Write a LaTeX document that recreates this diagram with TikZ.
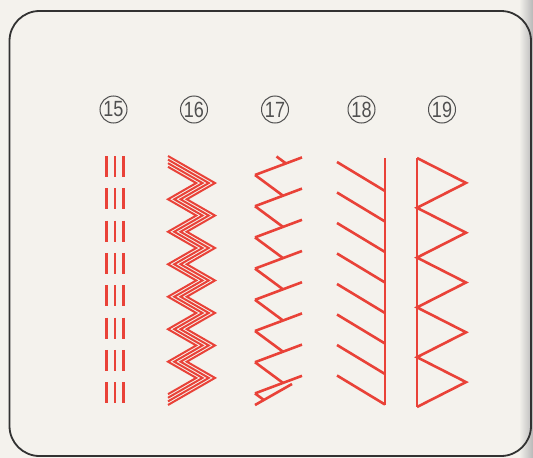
\documentclass[tikz,border=0pt]{standalone}
\usepackage{fontspec}
\setmainfont{Liberation Sans}
\newfontfamily\numfont[FakeStretch=0.82]{Liberation Sans}
\definecolor{bgc}{RGB}{244,242,237}
\definecolor{stitch}{RGB}{233,66,56}
\definecolor{framec}{RGB}{50,50,50}
\definecolor{numc}{RGB}{80,80,80}
\begin{document}
\begin{tikzpicture}[x=1pt,y=-1pt,
  stitchline/.style={draw=stitch,line width=2.6pt},
  thinstitch/.style={draw=stitch,line width=2pt,line join=miter},
  framebox/.style={draw=framec,line width=1.8pt,rounded corners=30pt},
  numlabel/.style={circle,draw=numc,line width=1pt,minimum size=27pt,inner sep=0pt,
    text=numc,font=\numfont\fontsize{22}{22}\selectfont}]
\useasboundingbox (0,0) rectangle (533,458);
\fill[bgc] (0,0) rectangle (533,458);
\shade[left color=bgc,right color=black!28] (519,0) rectangle (533,458);
\draw[framebox] (9.5,11) rectangle (531,456);

% labels
\node[numlabel] (n15) at (113.5,109.5) {15};
\node[numlabel] (n16) at (194,109.5) {16};
\node[numlabel] (n17) at (275,109.5) {17};
\node[numlabel] (n18) at (361.5,109.5) {18};
\node[numlabel] (n19) at (442,109.5) {19};

% pattern 15: triple straight stitch bars
\foreach \i in {0,...,7}
  \foreach \x in {106.5,115,123.5}
    \draw[stitchline] (\x,{156+\i*32.3}) -- (\x,{177+\i*32.3});

% pattern 16: four-strand zigzag, nested chevrons
\def\Lz{166.8}\def\dd{16.24}\def\ss{3.6}\def\cc{6.26}
\foreach \k in {0,...,3}
  \draw[thinstitch] (168,{\Lz-(3-\k)*\ss})
    \foreach \j in {1,...,13} { -- ({ifthenelse(mod(\j,2)==1,215-\k*\cc,168+(3-\k)*\cc)},{\Lz+\j*\dd}) }
    -- (168,{\Lz+14*\dd+(3-\k)*\ss});

% pattern 17: feather-like stitch
\draw[stitchline] (276.5,156.5) -- (285.9,163.4);
\foreach \i in {0,...,7} {
  \draw[stitchline] (255,{175+\i*31.2}) -- (302,{157.4+\i*31.2});
}
\foreach \i in {0,...,6} {
  \draw[stitchline] (255,{175+\i*31.2}) -- (283,{195.7+\i*31.2});
}
\draw[stitchline] (255,405) -- (292,384);
\draw[stitchline] (255,393.4) -- (263.9,400);

% pattern 18
\draw[stitchline] (385,158) -- (385,405);
\foreach \i in {0,...,7}
  \draw[stitchline] (337,{162+\i*30.5}) -- (385,{191+\i*30.5});

% pattern 19
\draw[stitchline] (417,158) -- (417,407);
\draw[stitchline,line join=miter] (417,158)
  \foreach \k in {0,...,4} { -- (466,{182.9+\k*49.8}) -- (417,{207.8+\k*49.8}) };
\end{tikzpicture}
\end{document}
